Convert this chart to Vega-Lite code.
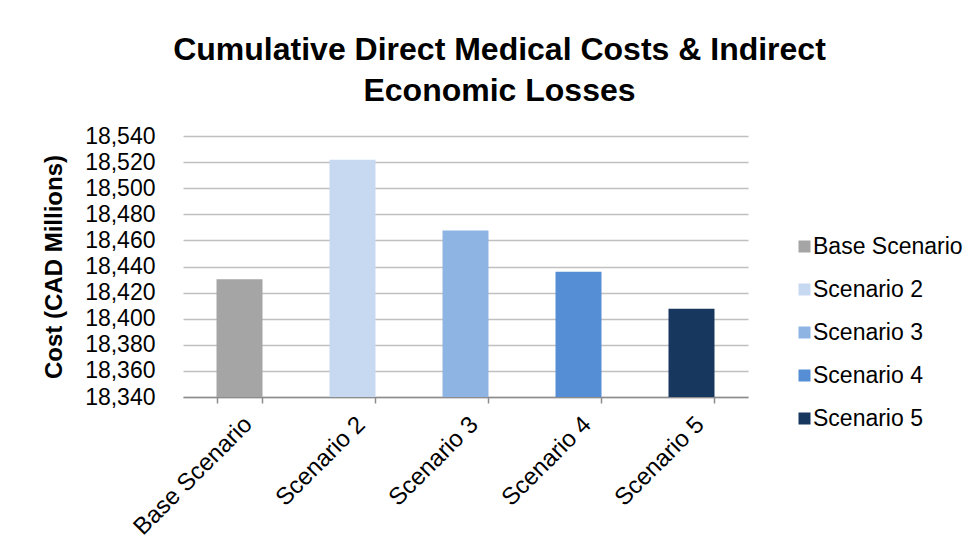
{
  "$schema": "https://vega.github.io/schema/vega-lite/v6.json",
  "autosize": {"type": "none"},
  "width": 565,
  "height": 261,
  "padding": {"left": 183, "top": 136, "right": 231, "bottom": 159},
  "background": "white",
  "title": {
    "text": ["Cumulative Direct Medical Costs & Indirect", "Economic Losses"],
    "font": "Liberation Sans",
    "fontSize": 32,
    "fontWeight": "bold",
    "color": "#000000",
    "anchor": "middle",
    "dx": 34,
    "offset": 17,
    "lineHeight": 41
  },
  "data": {
    "values": [
      {"scenario": "Base Scenario", "cost": 18430.3},
      {"scenario": "Scenario 2", "cost": 18521.8},
      {"scenario": "Scenario 3", "cost": 18467.5},
      {"scenario": "Scenario 4", "cost": 18436.0},
      {"scenario": "Scenario 5", "cost": 18407.7}
    ]
  },
  "mark": {"type": "bar", "clip": true},
  "encoding": {
    "x": {
      "field": "scenario",
      "type": "nominal",
      "sort": null,
      "scale": {"paddingInner": 0.593, "paddingOuter": 0.2965},
      "axis": {
        "title": null,
        "labelAngle": -45,
        "labelAlign": "right",
        "labelBaseline": "top",
        "labelFont": "Liberation Sans",
        "labelFontSize": 24,
        "labelColor": "#000000",
        "labelPadding": 9,
        "tickBand": "extent",
        "tickSize": 6,
        "tickColor": "#8c8c8c",
        "tickWidth": 1.5,
        "domainColor": "#8c8c8c",
        "domainWidth": 1.5,
        "grid": false
      }
    },
    "y": {
      "field": "cost",
      "type": "quantitative",
      "scale": {"domain": [18340, 18540], "zero": false, "nice": false},
      "axis": {
        "title": "Cost (CAD Millions)",
        "titleFont": "Liberation Sans",
        "titleFontSize": 24,
        "titleFontWeight": "bold",
        "titleColor": "#000000",
        "titlePadding": 18,
        "values": [18340, 18360, 18380, 18400, 18420, 18440, 18460, 18480, 18500, 18520, 18540],
        "format": ",d",
        "labelFont": "Liberation Sans",
        "labelFontSize": 23,
        "labelColor": "#000000",
        "labelPadding": 28,
        "ticks": false,
        "domain": false,
        "grid": true,
        "gridColor": "#c0c0c0",
        "gridWidth": 1.5
      }
    },
    "color": {
      "field": "scenario",
      "type": "nominal",
      "sort": null,
      "scale": {
        "domain": ["Base Scenario", "Scenario 2", "Scenario 3", "Scenario 4", "Scenario 5"],
        "range": ["#a5a5a5", "#c6d9f1", "#8eb4e3", "#558ed5", "#17375e"]
      },
      "legend": {
        "title": null,
        "orient": "none",
        "legendX": 610,
        "legendY": 99,
        "padding": 0,
        "symbolType": "square",
        "symbolSize": 144,
        "symbolStrokeWidth": 0,
        "labelFont": "Liberation Sans",
        "labelFontSize": 23,
        "labelColor": "#000000",
        "labelOffset": -3,
        "rowPadding": 19
      }
    }
  },
  "config": {
    "view": {"stroke": null}
  }
}
